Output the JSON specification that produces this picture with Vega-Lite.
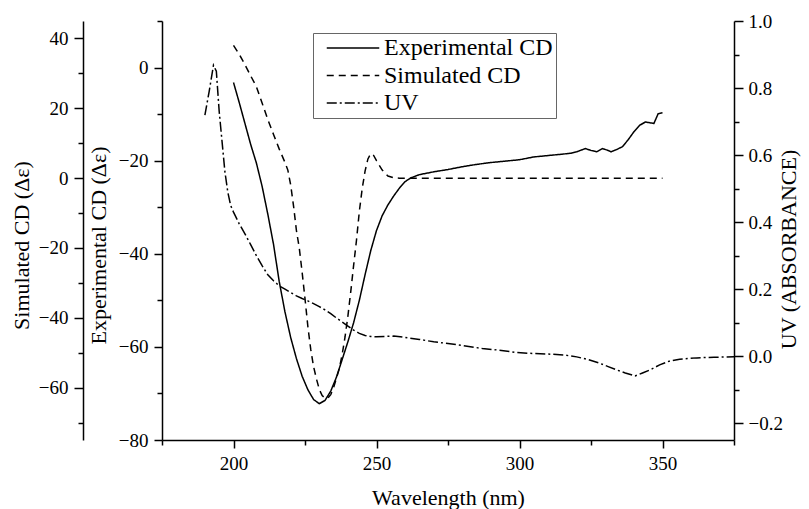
{
  "$schema": "https://vega.github.io/schema/vega-lite/v6.json",
  "width": 572,
  "height": 419,
  "autosize": {"type": "none"},
  "padding": {"left": 162, "top": 21, "right": 75, "bottom": 69},
  "background": "white",
  "config": {
    "view": {"stroke": null},
    "font": "Liberation Serif, Times New Roman, serif",
    "axis": {
      "domainColor": "black",
      "domainWidth": 1.5,
      "tickColor": "black",
      "tickWidth": 1.5,
      "labelColor": "black",
      "labelFont": "Liberation Serif, Times New Roman, serif",
      "labelFontSize": 19,
      "titleFont": "Liberation Serif, Times New Roman, serif",
      "titleFontSize": 22,
      "titleFontWeight": "normal",
      "titleColor": "black",
      "grid": false,
      "labelPadding": 6
    }
  },
  "datasets": {
    "exp": [
      {"nm": 200, "v": -3.2, "series": "Experimental CD"},
      {"nm": 202, "v": -7.5, "series": "Experimental CD"},
      {"nm": 204, "v": -12, "series": "Experimental CD"},
      {"nm": 206, "v": -16.5, "series": "Experimental CD"},
      {"nm": 208, "v": -20.5, "series": "Experimental CD"},
      {"nm": 210, "v": -25.5, "series": "Experimental CD"},
      {"nm": 212, "v": -31.5, "series": "Experimental CD"},
      {"nm": 214, "v": -38, "series": "Experimental CD"},
      {"nm": 216, "v": -46, "series": "Experimental CD"},
      {"nm": 218, "v": -52.5, "series": "Experimental CD"},
      {"nm": 220, "v": -58, "series": "Experimental CD"},
      {"nm": 222, "v": -62.5, "series": "Experimental CD"},
      {"nm": 224, "v": -66.3, "series": "Experimental CD"},
      {"nm": 226, "v": -69.2, "series": "Experimental CD"},
      {"nm": 228, "v": -71.3, "series": "Experimental CD"},
      {"nm": 230, "v": -72.2, "series": "Experimental CD"},
      {"nm": 232, "v": -71.5, "series": "Experimental CD"},
      {"nm": 234, "v": -69.5, "series": "Experimental CD"},
      {"nm": 236, "v": -66.5, "series": "Experimental CD"},
      {"nm": 238, "v": -62.7, "series": "Experimental CD"},
      {"nm": 240, "v": -58.9, "series": "Experimental CD"},
      {"nm": 242, "v": -54.8, "series": "Experimental CD"},
      {"nm": 244, "v": -50, "series": "Experimental CD"},
      {"nm": 246, "v": -44.5, "series": "Experimental CD"},
      {"nm": 248, "v": -39.3, "series": "Experimental CD"},
      {"nm": 250, "v": -35, "series": "Experimental CD"},
      {"nm": 252, "v": -31.8, "series": "Experimental CD"},
      {"nm": 254, "v": -29.5, "series": "Experimental CD"},
      {"nm": 256, "v": -27.6, "series": "Experimental CD"},
      {"nm": 258, "v": -25.9, "series": "Experimental CD"},
      {"nm": 260, "v": -24.5, "series": "Experimental CD"},
      {"nm": 262, "v": -23.7, "series": "Experimental CD"},
      {"nm": 265, "v": -23, "series": "Experimental CD"},
      {"nm": 270, "v": -22.4, "series": "Experimental CD"},
      {"nm": 275, "v": -21.9, "series": "Experimental CD"},
      {"nm": 280, "v": -21.3, "series": "Experimental CD"},
      {"nm": 285, "v": -20.8, "series": "Experimental CD"},
      {"nm": 290, "v": -20.4, "series": "Experimental CD"},
      {"nm": 295, "v": -20.1, "series": "Experimental CD"},
      {"nm": 300, "v": -19.8, "series": "Experimental CD"},
      {"nm": 305, "v": -19.2, "series": "Experimental CD"},
      {"nm": 310, "v": -18.9, "series": "Experimental CD"},
      {"nm": 315, "v": -18.6, "series": "Experimental CD"},
      {"nm": 318, "v": -18.4, "series": "Experimental CD"},
      {"nm": 320, "v": -18.1, "series": "Experimental CD"},
      {"nm": 323, "v": -17.4, "series": "Experimental CD"},
      {"nm": 325, "v": -17.8, "series": "Experimental CD"},
      {"nm": 327, "v": -18.1, "series": "Experimental CD"},
      {"nm": 329, "v": -17.4, "series": "Experimental CD"},
      {"nm": 331, "v": -17.8, "series": "Experimental CD"},
      {"nm": 332, "v": -18.1, "series": "Experimental CD"},
      {"nm": 334, "v": -17.6, "series": "Experimental CD"},
      {"nm": 336, "v": -17, "series": "Experimental CD"},
      {"nm": 338, "v": -15.5, "series": "Experimental CD"},
      {"nm": 340, "v": -13.8, "series": "Experimental CD"},
      {"nm": 342, "v": -12.4, "series": "Experimental CD"},
      {"nm": 344, "v": -11.7, "series": "Experimental CD"},
      {"nm": 346, "v": -11.9, "series": "Experimental CD"},
      {"nm": 347, "v": -12, "series": "Experimental CD"},
      {"nm": 348.5, "v": -9.9, "series": "Experimental CD"},
      {"nm": 350, "v": -9.7, "series": "Experimental CD"}
    ],
    "sim": [
      {"nm": 200, "v": 38, "series": "Simulated CD"},
      {"nm": 202, "v": 35.5, "series": "Simulated CD"},
      {"nm": 204, "v": 32.5, "series": "Simulated CD"},
      {"nm": 206, "v": 29.3, "series": "Simulated CD"},
      {"nm": 208, "v": 26.2, "series": "Simulated CD"},
      {"nm": 210, "v": 21.5, "series": "Simulated CD"},
      {"nm": 212, "v": 16.8, "series": "Simulated CD"},
      {"nm": 214, "v": 12.5, "series": "Simulated CD"},
      {"nm": 216, "v": 8.3, "series": "Simulated CD"},
      {"nm": 218, "v": 4.5, "series": "Simulated CD"},
      {"nm": 219, "v": 2.3, "series": "Simulated CD"},
      {"nm": 220, "v": -2, "series": "Simulated CD"},
      {"nm": 221, "v": -8, "series": "Simulated CD"},
      {"nm": 222, "v": -15, "series": "Simulated CD"},
      {"nm": 223, "v": -20, "series": "Simulated CD"},
      {"nm": 224, "v": -27, "series": "Simulated CD"},
      {"nm": 225, "v": -34.5, "series": "Simulated CD"},
      {"nm": 226, "v": -42.5, "series": "Simulated CD"},
      {"nm": 227, "v": -49, "series": "Simulated CD"},
      {"nm": 228, "v": -54, "series": "Simulated CD"},
      {"nm": 229, "v": -57.5, "series": "Simulated CD"},
      {"nm": 230, "v": -60.5, "series": "Simulated CD"},
      {"nm": 231, "v": -62.3, "series": "Simulated CD"},
      {"nm": 232, "v": -63, "series": "Simulated CD"},
      {"nm": 233, "v": -63, "series": "Simulated CD"},
      {"nm": 234, "v": -62, "series": "Simulated CD"},
      {"nm": 235, "v": -60, "series": "Simulated CD"},
      {"nm": 236, "v": -57.3, "series": "Simulated CD"},
      {"nm": 237, "v": -54.5, "series": "Simulated CD"},
      {"nm": 238, "v": -50.5, "series": "Simulated CD"},
      {"nm": 239, "v": -45.5, "series": "Simulated CD"},
      {"nm": 240, "v": -39.5, "series": "Simulated CD"},
      {"nm": 241, "v": -32.5, "series": "Simulated CD"},
      {"nm": 242, "v": -25, "series": "Simulated CD"},
      {"nm": 243, "v": -17.8, "series": "Simulated CD"},
      {"nm": 244, "v": -9.5, "series": "Simulated CD"},
      {"nm": 245, "v": -3, "series": "Simulated CD"},
      {"nm": 246, "v": 2, "series": "Simulated CD"},
      {"nm": 247, "v": 5.5, "series": "Simulated CD"},
      {"nm": 248, "v": 7, "series": "Simulated CD"},
      {"nm": 249, "v": 6.5, "series": "Simulated CD"},
      {"nm": 250, "v": 5, "series": "Simulated CD"},
      {"nm": 252, "v": 2.3, "series": "Simulated CD"},
      {"nm": 254, "v": 0.6, "series": "Simulated CD"},
      {"nm": 256, "v": 0.1, "series": "Simulated CD"},
      {"nm": 258, "v": 0, "series": "Simulated CD"},
      {"nm": 300, "v": 0, "series": "Simulated CD"},
      {"nm": 350, "v": 0, "series": "Simulated CD"}
    ],
    "uv": [
      {"nm": 190, "v": 0.719, "series": "UV"},
      {"nm": 191.5, "v": 0.79, "series": "UV"},
      {"nm": 193, "v": 0.868, "series": "UV"},
      {"nm": 194, "v": 0.85, "series": "UV"},
      {"nm": 195, "v": 0.73, "series": "UV"},
      {"nm": 196, "v": 0.64, "series": "UV"},
      {"nm": 197, "v": 0.55, "series": "UV"},
      {"nm": 198, "v": 0.49, "series": "UV"},
      {"nm": 199, "v": 0.45, "series": "UV"},
      {"nm": 200, "v": 0.43, "series": "UV"},
      {"nm": 202, "v": 0.395, "series": "UV"},
      {"nm": 204, "v": 0.365, "series": "UV"},
      {"nm": 206, "v": 0.333, "series": "UV"},
      {"nm": 208, "v": 0.3, "series": "UV"},
      {"nm": 210, "v": 0.27, "series": "UV"},
      {"nm": 212, "v": 0.243, "series": "UV"},
      {"nm": 214, "v": 0.225, "series": "UV"},
      {"nm": 216, "v": 0.21, "series": "UV"},
      {"nm": 218, "v": 0.2, "series": "UV"},
      {"nm": 220, "v": 0.19, "series": "UV"},
      {"nm": 222, "v": 0.18, "series": "UV"},
      {"nm": 224, "v": 0.172, "series": "UV"},
      {"nm": 226, "v": 0.165, "series": "UV"},
      {"nm": 228, "v": 0.157, "series": "UV"},
      {"nm": 230, "v": 0.148, "series": "UV"},
      {"nm": 232, "v": 0.138, "series": "UV"},
      {"nm": 234, "v": 0.127, "series": "UV"},
      {"nm": 236, "v": 0.114, "series": "UV"},
      {"nm": 238, "v": 0.102, "series": "UV"},
      {"nm": 240, "v": 0.09, "series": "UV"},
      {"nm": 242, "v": 0.078, "series": "UV"},
      {"nm": 244, "v": 0.068, "series": "UV"},
      {"nm": 246, "v": 0.062, "series": "UV"},
      {"nm": 248, "v": 0.059, "series": "UV"},
      {"nm": 250, "v": 0.058, "series": "UV"},
      {"nm": 253, "v": 0.059, "series": "UV"},
      {"nm": 256, "v": 0.06, "series": "UV"},
      {"nm": 260, "v": 0.056, "series": "UV"},
      {"nm": 265, "v": 0.05, "series": "UV"},
      {"nm": 270, "v": 0.043, "series": "UV"},
      {"nm": 275, "v": 0.038, "series": "UV"},
      {"nm": 280, "v": 0.032, "series": "UV"},
      {"nm": 287, "v": 0.023, "series": "UV"},
      {"nm": 293, "v": 0.018, "series": "UV"},
      {"nm": 299, "v": 0.011, "series": "UV"},
      {"nm": 305, "v": 0.008, "series": "UV"},
      {"nm": 311, "v": 0.006, "series": "UV"},
      {"nm": 316, "v": 0.003, "series": "UV"},
      {"nm": 320, "v": -0.002, "series": "UV"},
      {"nm": 324, "v": -0.01, "series": "UV"},
      {"nm": 328, "v": -0.021, "series": "UV"},
      {"nm": 331, "v": -0.031, "series": "UV"},
      {"nm": 334, "v": -0.041, "series": "UV"},
      {"nm": 337, "v": -0.05, "series": "UV"},
      {"nm": 340.4, "v": -0.059, "series": "UV"},
      {"nm": 343, "v": -0.05, "series": "UV"},
      {"nm": 345.6, "v": -0.041, "series": "UV"},
      {"nm": 349, "v": -0.026, "series": "UV"},
      {"nm": 352.6, "v": -0.014, "series": "UV"},
      {"nm": 356, "v": -0.009, "series": "UV"},
      {"nm": 362, "v": -0.005, "series": "UV"},
      {"nm": 368, "v": -0.003, "series": "UV"},
      {"nm": 375, "v": -0.002, "series": "UV"}
    ]
  },
  "encoding": {
    "x": {
      "field": "nm",
      "type": "quantitative",
      "scale": {"domain": [175, 375], "nice": false, "zero": false},
      "axis": {
        "title": "Wavelength (nm)",
        "labelFont": "Liberation Serif, Times New Roman, serif",
        "titleFont": "Liberation Serif, Times New Roman, serif",
        "values": [175, 200, 225, 250, 275, 300, 325, 350, 375],
        "tickSize": {"condition": {"test": "datum.value % 50 === 0", "value": 8}, "value": 5},
        "labelExpr": "datum.value % 50 === 0 ? datum.label : ''",
        "labelPadding": 6,
        "titlePadding": 14
      }
    },
    "strokeDash": {
      "field": "series",
      "type": "nominal",
      "scale": {
        "domain": ["Experimental CD", "Simulated CD", "UV"],
        "range": [[1, 0], [7, 5], [10, 3, 2, 3]]
      },
      "legend": {
        "title": null,
        "orient": "none",
        "legendX": 151,
        "legendY": 12,
        "direction": "vertical",
        "strokeColor": "#666",
        "fillColor": "white",
        "padding": 3,
        "symbolType": "M-2.5,0H2.5",
        "symbolSize": 441,
        "symbolOffset": 25,
        "symbolStrokeWidth": 1.5,
        "symbolStrokeColor": "black",
        "symbolFillColor": "transparent",
        "labelFont": "Liberation Serif, Times New Roman, serif",
        "labelFontSize": 24,
        "labelColor": "black",
        "labelOffset": 19,
        "labelLimit": 400,
        "rowPadding": 3.5
      }
    }
  },
  "layer": [
    {
      "data": {"name": "exp"},
      "mark": {"type": "line", "stroke": "black", "strokeWidth": 1.5},
      "encoding": {
        "y": {
          "field": "v",
          "type": "quantitative",
          "scale": {"domain": [-80, 10], "nice": false, "zero": false},
          "axis": {
            "orient": "left",
            "title": "Experimental CD (Δε)",
            "labelFont": "Liberation Serif, Times New Roman, serif",
            "titleFont": "Liberation Serif, Times New Roman, serif",
            "values": [-80, -70, -60, -50, -40, -30, -20, -10, 0, 10],
            "tickSize": {"condition": {"test": "datum.value % 20 === 0", "value": 8}, "value": 5},
            "labelExpr": "datum.value % 20 === 0 ? datum.label : ''",
            "titlePadding": 8,
            "titleY": 224
          }
        }
      }
    },
    {
      "data": {"name": "sim"},
      "mark": {"type": "line", "stroke": "black", "strokeWidth": 1.5},
      "encoding": {
        "y": {
          "field": "v",
          "type": "quantitative",
          "scale": {"domain": [-75, 45], "nice": false, "zero": false},
          "axis": {
            "orient": "left",
            "offset": 79,
            "title": "Simulated CD (Δε)",
            "labelFont": "Liberation Serif, Times New Roman, serif",
            "titleFont": "Liberation Serif, Times New Roman, serif",
            "values": [-70, -60, -50, -40, -30, -20, -10, 0, 10, 20, 30, 40],
            "tickSize": {"condition": {"test": "datum.value % 20 === 0", "value": 9}, "value": 5},
            "labelExpr": "datum.value % 20 === 0 ? datum.label : ''",
            "titlePadding": 5,
            "titleY": 224
          }
        }
      }
    },
    {
      "data": {"name": "uv"},
      "mark": {"type": "line", "stroke": "black", "strokeWidth": 1.5},
      "encoding": {
        "y": {
          "field": "v",
          "type": "quantitative",
          "scale": {"domain": [-0.25, 1.0], "nice": false, "zero": false},
          "axis": {
            "orient": "right",
            "title": "UV (ABSORBANCE)",
            "labelFont": "Liberation Serif, Times New Roman, serif",
            "titleFont": "Liberation Serif, Times New Roman, serif",
            "titleAngle": 270,
            "values": [-0.2, -0.1, 0, 0.1, 0.2, 0.3, 0.4, 0.5, 0.6, 0.7, 0.8, 0.9, 1.0],
            "tickSize": {"condition": {"test": "abs(round(datum.value * 10)) % 2 === 0", "value": 9}, "value": 5},
            "labelExpr": "abs(round(datum.value * 10)) % 2 === 0 ? format(datum.value, '.1f') : ''",
            "labelPadding": 5,
            "titlePadding": 18,
            "titleY": 228
          }
        }
      }
    }
  ],
  "resolve": {"scale": {"y": "independent"}}
}
